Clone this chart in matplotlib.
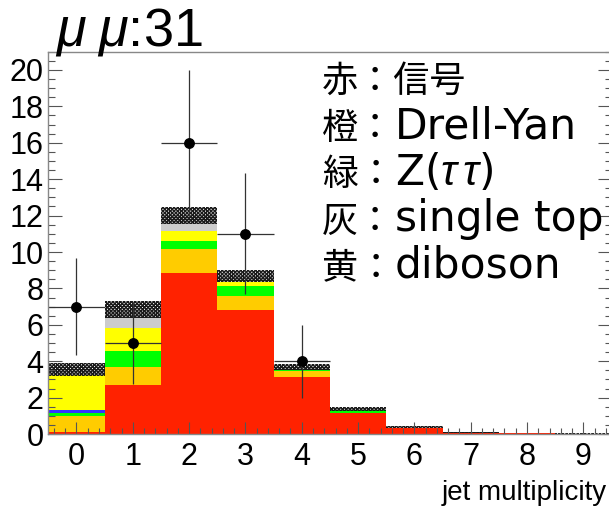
import numpy as np
import matplotlib
matplotlib.use("Agg")
import matplotlib.pyplot as plt
from matplotlib.ticker import MultipleLocator

plt.rcParams['font.family'] = ['Liberation Sans', 'Noto Sans CJK JP', 'DejaVu Sans']
plt.rcParams['mathtext.fontset'] = 'custom'
plt.rcParams['mathtext.rm'] = 'Liberation Sans'
plt.rcParams['mathtext.it'] = 'Liberation Sans:italic'
plt.rcParams['hatch.linewidth'] = 1.0

# jet multiplicity bins and stacked MC yields (bottom to top)
njets = np.arange(10)
signal = [0.10, 2.67, 8.83, 6.80, 3.13, 1.13, 0.33, 0.05, 0.03, 0.02]
drellyan = [0.88, 1.01, 1.34, 0.80, 0.33, 0.05, 0.01, 0.01, 0.00, 0.00]
ztautau = [0.17, 0.89, 0.46, 0.53, 0.03, 0.12, 0.01, 0.00, 0.00, 0.00]
wjets = [0.18, 0.00, 0.00, 0.00, 0.00, 0.00, 0.00, 0.00, 0.00, 0.00]
diboson = [1.89, 1.28, 0.55, 0.22, 0.05, 0.02, 0.00, 0.00, 0.00, 0.00]
singletop = [0.33, 0.98, 0.82, 0.33, 0.13, 0.05, 0.03, 0.01, 0.01, 0.00]
mc_err = [0.35, 0.47, 0.47, 0.33, 0.18, 0.12, 0.04, 0.02, 0.01, 0.01]
data = [7, 5, 16, 11, 4, 0, 0, 0, 0, 0]

keys = ['赤：信号', '橙：', '緑：', '灰：', '黄：']
names = ['', 'Drell-Yan', r'Z($\tau\,\tau$)', 'single top', 'diboson']

stack = [
    (signal, '#ff2200'),
    (drellyan, '#ffcc00'),
    (ztautau, '#00ff00'),
    (wjets, '#3333ff'),
    (diboson, '#ffff00'),
    (singletop, '#cccccc'),
]

W, H = 609, 507
fig = plt.figure(figsize=(W / 100, H / 100), dpi=100)
ax = fig.add_axes([48.3 / W, 73 / H, 563.2 / W, 382.2 / H])

bottom = np.zeros(len(njets))
for vals, col in stack:
    vals = np.array(vals)
    ax.bar(njets, vals, width=1.0, bottom=bottom, color=col, linewidth=0)
    bottom += vals

total = bottom
err = np.array(mc_err)
ax.bar(njets, 2 * err, width=1.0, bottom=total - err, color='none',
       edgecolor='#1a1a1a', hatch='xxxxxxxxx', linewidth=0)

# data points with poisson errors, empty bins are not drawn
d = np.array(data, dtype=float)
m = d > 0
ax.errorbar(njets[m], d[m], yerr=np.sqrt(d[m]), xerr=0.5, fmt='o',
            color='black', ecolor='#333333', ms=6.8, elinewidth=0.9,
            capsize=0)

ax.set_xlim(-0.5, 9.5)
ax.set_ylim(0, 21)
ax.xaxis.set_major_locator(MultipleLocator(1))
ax.xaxis.set_minor_locator(MultipleLocator(0.2))
ax.yaxis.set_major_locator(MultipleLocator(2))
ax.yaxis.set_minor_locator(MultipleLocator(0.5))

for s in ax.spines.values():
    s.set_color('#888888')
    s.set_linewidth(1.0)

ax.tick_params(axis='y', which='both', direction='in', left=True, right=True,
               color='#555555', labelsize=22, pad=3.5)
ax.tick_params(axis='y', which='major', length=10, width=0.8)
ax.tick_params(axis='y', which='minor', length=5, width=0.8)
ax.tick_params(axis='x', which='both', direction='in', bottom=True, top=False,
               color='#555555', labelsize=22, pad=6)
ax.tick_params(axis='x', which='major', length=8.5, width=0.8)
ax.tick_params(axis='x', which='minor', length=4.3, width=0.8)

fig.text(55 / W, 1 - 45 / H, r'$\mu\;\mu$:31', fontsize=39, va='baseline')
fig.text(607 / W, 1 - 500 / H, 'jet multiplicity', fontsize=20,
         ha='right', va='baseline')

# colour key: "colour : process"
for i, (k, n) in enumerate(zip(keys, names)):
    yb = 1 - (92 + 46.5 * i) / H
    fig.text(322 / W, yb, k, fontsize=26, va='baseline',
             family=['Noto Sans CJK JP'])
    if n:
        fig.text(395 / W, yb, n, fontsize=30.5, va='baseline',
                 family=['DejaVu Sans'])

fig.savefig('out.png', dpi=100)
